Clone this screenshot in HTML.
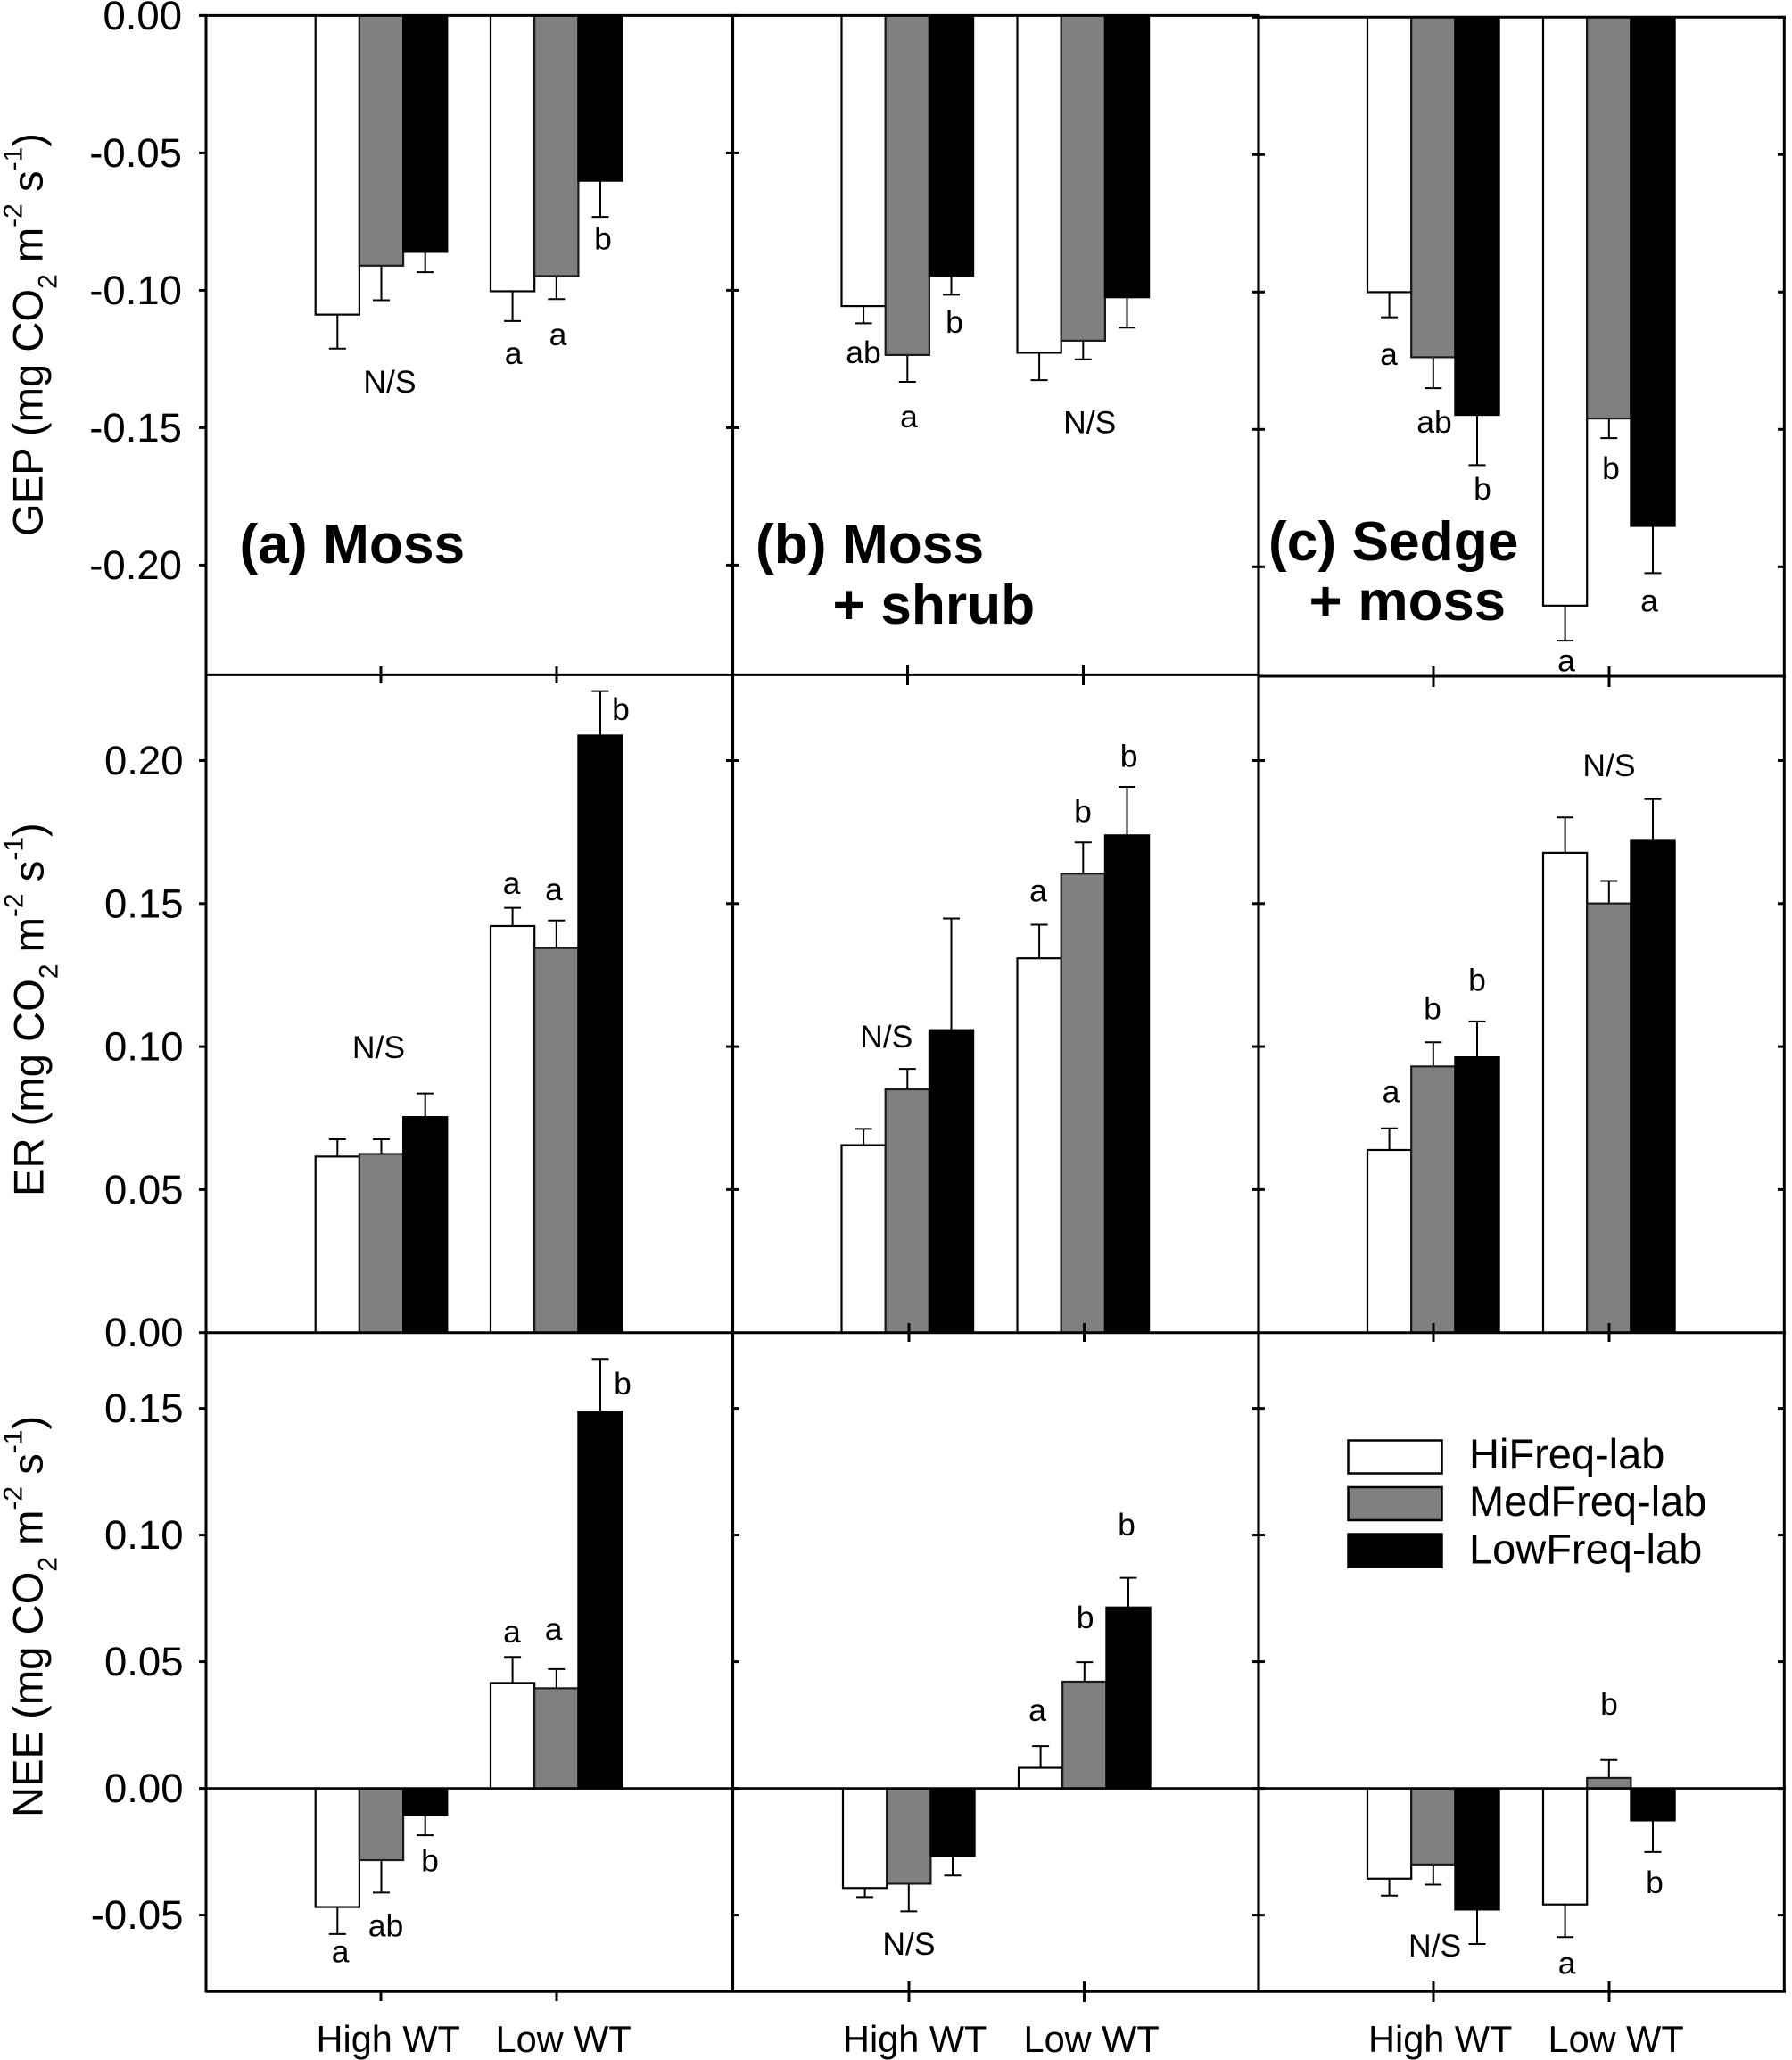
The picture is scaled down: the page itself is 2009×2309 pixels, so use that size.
<!DOCTYPE html>
<html lang="en">
<head>
<meta charset="utf-8">
<title>GEP, ER and NEE by water table and treatment</title>
<style>
html,body{margin:0;padding:0;background:#fff;}
svg{display:block;font-family:"Liberation Sans",Arial,sans-serif;}
.sig{font-size:35.5px;text-anchor:middle;}
.ttl{font-size:62.3px;font-weight:bold;}
.ttl2{font-size:63.5px;font-weight:bold;}
.xl{font-size:41.5px;}
.yt{font-size:47.2px;}
.yt .s{font-size:30px;}
.lg{font-size:47px;}
.tk{font-size:45.5px;text-anchor:end;}
</style>
</head>
<body>
<svg id="chart" xmlns="http://www.w3.org/2000/svg" width="2009" height="2309" viewBox="0 0 2009 2309">
  <rect x="0" y="0" width="2009" height="2309" fill="#fff"/>
  <g id="marks"></g>
  <g id="frame"></g>
  <g id="ticklabels"></g>

  <text class="yt" transform="translate(47.7,601) rotate(-90)">GEP (mg CO<tspan class="s" dy="16">2</tspan><tspan dy="-16"> m</tspan><tspan class="s" dy="-23">-2</tspan><tspan dy="23"> s</tspan><tspan class="s" dy="-23">-1</tspan><tspan dy="23">)</tspan></text>
  <text class="yt" transform="translate(48.5,1341) rotate(-90)">ER (mg CO<tspan class="s" dy="16">2</tspan><tspan dy="-16"> m</tspan><tspan class="s" dy="-23">-2</tspan><tspan dy="23"> s</tspan><tspan class="s" dy="-23">-1</tspan><tspan dy="23">)</tspan></text>
  <text class="yt" transform="translate(47.7,2037) rotate(-90)">NEE (mg CO<tspan class="s" dy="16">2</tspan><tspan dy="-16"> m</tspan><tspan class="s" dy="-23">-2</tspan><tspan dy="23"> s</tspan><tspan class="s" dy="-23">-1</tspan><tspan dy="23">)</tspan></text>

  <text class="ttl" x="268.5" y="631">(a) Moss</text>
  <text class="ttl" x="847" y="631">(b) Moss</text>
  <text class="ttl" x="933.5" y="699">+ shrub</text>
  <text class="ttl" x="1422" y="628">(c) Sedge</text>
  <text class="ttl2" x="1467.5" y="695">+ moss</text>

  <g>
    <text class="xl" x="354.5" y="2300">High WT</text>
    <text class="xl" x="555.5" y="2300">Low WT</text>
    <text class="xl" x="945" y="2300">High WT</text>
    <text class="xl" x="1147.5" y="2300">Low WT</text>
    <text class="xl" x="1534" y="2300">High WT</text>
    <text class="xl" x="1735.5" y="2300">Low WT</text>
  </g>

  <g>
    <text class="sig" x="437" y="440">N/S</text>
    <text class="sig" x="575.6" y="408">a</text>
    <text class="sig" x="625.5" y="387">a</text>
    <text class="sig" x="676" y="279.6">b</text>
    <text class="sig" x="968" y="407">ab</text>
    <text class="sig" x="1019" y="479">a</text>
    <text class="sig" x="1070" y="373">b</text>
    <text class="sig" x="1221.7" y="485.6">N/S</text>
    <text class="sig" x="1557" y="409">a</text>
    <text class="sig" x="1608" y="485">ab</text>
    <text class="sig" x="1662" y="560">b</text>
    <text class="sig" x="1756" y="752.7">a</text>
    <text class="sig" x="1806" y="537">b</text>
    <text class="sig" x="1849" y="685.6">a</text>

    <text class="sig" x="424.5" y="1186">N/S</text>
    <text class="sig" x="573.5" y="1002">a</text>
    <text class="sig" x="621" y="1009">a</text>
    <text class="sig" x="696" y="807">b</text>
    <text class="sig" x="993.7" y="1173.8">N/S</text>
    <text class="sig" x="1164" y="1010.6">a</text>
    <text class="sig" x="1214" y="921.6">b</text>
    <text class="sig" x="1265.6" y="859.4">b</text>
    <text class="sig" x="1559.5" y="1235.5">a</text>
    <text class="sig" x="1606" y="1142.5">b</text>
    <text class="sig" x="1656" y="1110.6">b</text>
    <text class="sig" x="1804" y="870">N/S</text>

    <text class="sig" x="381.6" y="2199.6">a</text>
    <text class="sig" x="432.5" y="2170.5">ab</text>
    <text class="sig" x="482" y="2097.7">b</text>
    <text class="sig" x="574" y="1841">a</text>
    <text class="sig" x="620.6" y="1838">a</text>
    <text class="sig" x="698" y="1563">b</text>
    <text class="sig" x="1019" y="2191">N/S</text>
    <text class="sig" x="1163" y="1929">a</text>
    <text class="sig" x="1216.6" y="1825">b</text>
    <text class="sig" x="1263" y="1721">b</text>
    <text class="sig" x="1608.6" y="2193">N/S</text>
    <text class="sig" x="1756.6" y="2212.7">a</text>
    <text class="sig" x="1804" y="1922">b</text>
    <text class="sig" x="1855" y="2122">b</text>
  </g>

  <g>
    <rect x="1511.5" y="1614.5" width="105" height="37" fill="#fff" stroke="#000" stroke-width="2.5"/>
    <rect x="1511.5" y="1667" width="105" height="37" fill="#808080" stroke="#000" stroke-width="2.5"/>
    <rect x="1511.5" y="1719.5" width="105" height="37" fill="#000" stroke="#000" stroke-width="2.5"/>
    <text class="lg" x="1647" y="1646">HiFreq-lab</text>
    <text class="lg" x="1647" y="1699">MedFreq-lab</text>
    <text class="lg" x="1647" y="1752.5">LowFreq-lab</text>
  </g>
</svg>

<script>
// Bar order in each array: High WT (Hi, Med, Low), then Low WT (Hi, Med, Low)
const gepMossMeans  = [-0.1091,-0.0913,-0.0863,-0.1006,-0.0951,-0.0604];
const gepMossErrors = [0.0121,0.0123,0.0071,0.0106,0.0081,0.0129];
const gepShrubMeans  = [-0.1060,-0.1238,-0.0950,-0.1230,-0.1186,-0.1028];
const gepShrubErrors = [0.0060,0.0095,0.0066,0.0097,0.0065,0.0108];
const gepSedgeMeans  = [-0.1003,-0.1240,-0.1450,-0.2144,-0.1463,-0.1854];
const gepSedgeErrors = [0.0089,0.0110,0.0180,0.0125,0.0069,0.0169];

const erMossMeans  = [0.0618,0.0627,0.0756,0.1424,0.1347,0.2090];
const erMossErrors = [0.0058,0.0049,0.0080,0.0061,0.0094,0.0153];
const erShrubMeans  = [0.0658,0.0853,0.1060,0.1311,0.1607,0.1741];
const erShrubErrors = [0.0054,0.0069,0.0388,0.0115,0.0107,0.0167];
const erSedgeMeans  = [0.0641,0.0933,0.0965,0.1680,0.1503,0.1725];
const erSedgeErrors = [0.0073,0.0082,0.0123,0.0121,0.0076,0.0140];

const neeMossMeans  = [-0.0471,-0.0286,-0.0108,0.0419,0.0398,0.1490];
const neeMossErrors = [0.0104,0.0125,0.0077,0.0100,0.0073,0.0205];
const neeShrubMeans  = [-0.0396,-0.0379,-0.0270,0.0084,0.0424,0.0717];
const neeShrubErrors = [0.0033,0.0106,0.0074,0.0083,0.0074,0.0114];
const neeSedgeMeans  = [-0.0359,-0.0303,-0.0481,-0.0461,0.0044,-0.0129];
const neeSedgeErrors = [0.0064,0.0077,0.0133,0.0126,0.0068,0.0122];

const gepTicks = [0,-0.05,-0.10,-0.15,-0.20];
const erTicks  = [0.05,0.10,0.15,0.20];
const erZeroTick = [0];
const neeTicks = [-0.05,0,0.05,0.10,0.15];

const treatments = ['hifreq','medfreq','lowfreq'];
const waterTables = ['high-wt','low-wt'];
const columnNames = ['moss','shrub','sedge'];
const rowNames = ['gep','er','nee'];

const NS = 'http://www.w3.org/2000/svg';
const fills = ['#ffffff','#808080','#000000'];
const strokes = ['#000000','#1a1a1a','#000000'];
const BAR_W = 49.2;

// axis functions
function yScale(rowIdx, colIdx) {
  const zero = rowIdx === 0 ? (colIdx === 2 ? 19.3 : 17.4) : rowIdx === 1 ? 1493.7 : 2004.6;
  const per = rowIdx === 0 ? 154 : rowIdx === 1 ? 160.3 : 142;
  return v => zero - (v / 0.05) * per;
}
function xScale(rowIdx, colIdx) {
  const groupStart = colIdx === 0 ? [353.7,550] : colIdx === 1 ? [943.5,1140.5] : [1533,1730];
  const shift = (rowIdx === 2 && colIdx === 1) ? 1.5 : 0;
  return i => groupStart[Math.floor(i / 3)] + shift + (i % 3) * BAR_W;
}

const marks = document.getElementById('marks');
const frame = document.getElementById('frame');
const tickLabels = document.getElementById('ticklabels');

function mk(tag, parent, attrs) {
  const el = document.createElementNS(NS, tag);
  for (const k in attrs) el.setAttribute(k, attrs[k]);
  parent.appendChild(el);
  return el;
}

function drawPanel(rowIdx, colIdx, means, errors) {
  const y = yScale(rowIdx, colIdx);
  const x = xScale(rowIdx, colIdx);
  const base = y(0);
  means.forEach((m, i) => {
    const label = rowNames[rowIdx] + '-' + columnNames[colIdx] + '-' + waterTables[Math.floor(i / 3)] + '-' + treatments[i % 3];
    const left = x(i);
    const cx = left + BAR_W / 2;
    const dir = m < 0 ? -1 : 1;
    const end = y(m + dir * errors[i]);
    const ty = y(m);
    const inset = ty > base ? -0.8 : 0.8;

    const stem = mk('line', marks, {x1: cx, x2: cx, y1: ty, y2: end, stroke: '#000', 'stroke-width': 2});
    
    
    const cap = mk('line', marks, {x1: cx - 9.5, x2: cx + 9.5, y1: end, y2: end, stroke: '#000', 'stroke-width': 2});
    
    

    const bar = mk('rect', marks, {
      x: left, y: Math.min(ty + inset, base), width: BAR_W, height: Math.abs(base - (ty + inset)),
      fill: fills[i % 3], stroke: strokes[i % 3], 'stroke-width': 2.2
    });
    
    
  });
}

drawPanel(0,0,gepMossMeans,gepMossErrors);
drawPanel(0,1,gepShrubMeans,gepShrubErrors);
drawPanel(0,2,gepSedgeMeans,gepSedgeErrors);
drawPanel(1,0,erMossMeans,erMossErrors);
drawPanel(1,1,erShrubMeans,erShrubErrors);
drawPanel(1,2,erSedgeMeans,erSedgeErrors);
drawPanel(2,0,neeMossMeans,neeMossErrors);
drawPanel(2,1,neeShrubMeans,neeShrubErrors);
drawPanel(2,2,neeSedgeMeans,neeSedgeErrors);

// frame lines
function frameLine(name, x1, y1, x2, y2, w) {
  const l = mk('line', frame, {x1, y1, x2, y2, stroke: '#000', 'stroke-width': w});
  
  
}
frameLine('axis-left', 231, 16, 231, 2233.5, 3);
frameLine('divider-ab', 821.5, 16, 821.5, 2233.5, 3.2);
frameLine('divider-bc', 1411, 16, 1411, 2233.5, 3.2);
frameLine('axis-right', 2000.3, 18, 2000.3, 2233.5, 3);
frameLine('top-line-ab', 223, 17.4, 1411, 17.4, 3);
frameLine('top-line-c', 1411, 19.3, 2002, 19.3, 3);
frameLine('gep-bottom-line-ab', 231, 756.4, 1411, 756.4, 3);
frameLine('gep-bottom-line-c', 1411, 758, 2002, 758, 3);
frameLine('er-zero-line', 231, 1493.7, 2002, 1493.7, 3);
frameLine('nee-zero-line', 231, 2004.6, 2002, 2004.6, 2.6);
frameLine('bottom-line', 231, 2232.3, 2002, 2232.3, 3);

// y ticks and labels
function yTicks(rowIdx, ticks) {
  ticks.forEach(t => {
    const ya = yScale(rowIdx, 0)(t);
    const yc = yScale(rowIdx, 2)(t);
    frameLine('y-tick-left-' + rowNames[rowIdx] + '-' + t, 223, ya, 231, ya, 3);
    const lo = rowIdx === 2 ? 821.5 : 814;
    frameLine('y-tick-ab-' + rowNames[rowIdx] + '-' + t, lo, ya, 829, ya, 3);
    frameLine('y-tick-bc-' + rowNames[rowIdx] + '-' + t, 1404, yc, 1418, yc, 3);
    frameLine('y-tick-right-' + rowNames[rowIdx] + '-' + t, 1993, yc, 2000, yc, 3);
    const txt = mk('text', tickLabels, {x: rowIdx === 0 ? 204 : 205.5, y: ya + 15.5, class: 'tk'});
    txt.textContent = t.toFixed(2);
    
    
  });
}
yTicks(0, gepTicks);
yTicks(1, erTicks);
yTicks(2, neeTicks);

// the ER baseline tick and label
erZeroTick.forEach(t => {
  const ya = yScale(1, 0)(t);
  frameLine('y-tick-left-er-zero', 223, ya, 231, ya, 3);
  const txt = mk('text', tickLabels, {x: 205.5, y: ya + 15.5, class: 'tk'});
  txt.textContent = t.toFixed(2);
  
  
});

// x ticks at each group centre
function xTick(name, x, y1, y2) { frameLine(name, x, y1, x, y2, 3); }
xTick('x-tick-gep-moss-high', 427, 747, 766);
xTick('x-tick-gep-moss-low', 624, 747, 766);
xTick('x-tick-gep-shrub-high', 1017.5, 745, 768);
xTick('x-tick-gep-shrub-low', 1214.5, 745, 768);
xTick('x-tick-gep-sedge-high', 1607, 747, 770);
xTick('x-tick-gep-sedge-low', 1804, 747, 770);
xTick('x-tick-er-shrub-high', 1019, 1483, 1504);
xTick('x-tick-er-shrub-low', 1215.5, 1483, 1504);
xTick('x-tick-er-sedge-high', 1607, 1483, 1504);
xTick('x-tick-er-sedge-low', 1804, 1483, 1504);
xTick('x-tick-nee-moss-high', 427, 2232, 2243);
xTick('x-tick-nee-moss-low', 624, 2232, 2243);
xTick('x-tick-nee-shrub-high', 1019, 2221, 2244);
xTick('x-tick-nee-shrub-low', 1215.5, 2221, 2244);
xTick('x-tick-nee-sedge-high', 1607, 2221, 2244);
xTick('x-tick-nee-sedge-low', 1804, 2221, 2244);
</script>
</body>
</html>
